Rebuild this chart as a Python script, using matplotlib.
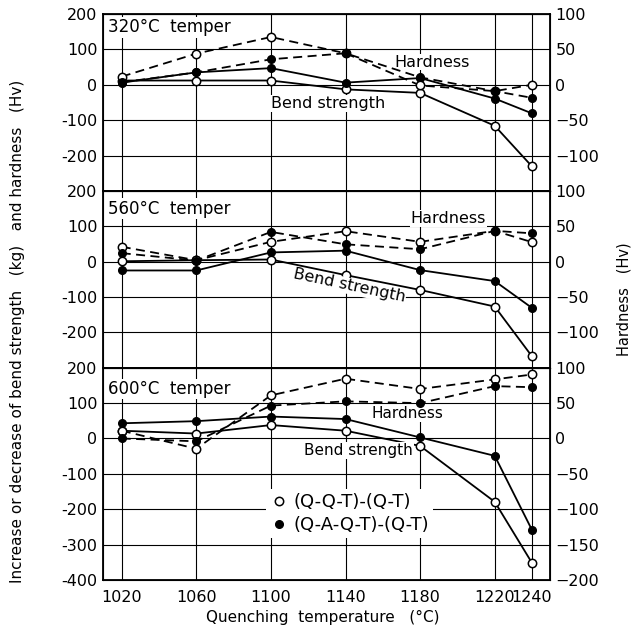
import matplotlib
matplotlib.use("Agg")
import matplotlib.pyplot as plt
from matplotlib.lines import Line2D

temps = [1020, 1060, 1100, 1140, 1180, 1220, 1240]

# bend strength change (kg), left axis
bend_qqt_320 = [12, 12, 12, -13, -23, -116, -231]
bend_qaqt_320 = [6, 35, 47, 6, 19, -39, -81]
bend_qqt_560 = [1, 4, 6, -38, -80, -127, -268]
bend_qaqt_560 = [-25, -25, 26, 31, -24, -55, -131]
bend_qqt_600 = [22, 14, 38, 22, -21, -179, -352]
bend_qaqt_600 = [43, 49, 62, 55, 3, -49, -259]

# hardness change (Hv), right axis
hard_qqt_320 = [11.5, 44, 67.5, 44.5, -1, -9, 0]
hard_qaqt_320 = [3.5, 17.5, 36, 44.5, 10.5, -9, -18.5]
hard_qqt_560 = [21, 2, 28, 43, 28, 43.5, 27.5]
hard_qaqt_560 = [12, 1.5, 42, 24.5, 17.5, 43.5, 40]
hard_qqt_600 = [11, -14.5, 61, 84.5, 70, 83.5, 90.5]
hard_qaqt_600 = [0, -4, 46.5, 52.5, 50, 74, 72.5]

panels = [
    ("320°C  temper", bend_qqt_320, bend_qaqt_320, hard_qqt_320, hard_qaqt_320,
     (-300, 200), (-150, 100), [200, 100, 0, -100, -200], [100, 50, 0, -50, -100]),
    ("560°C  temper", bend_qqt_560, bend_qaqt_560, hard_qqt_560, hard_qaqt_560,
     (-300, 200), (-150, 100), [200, 100, 0, -100, -200], [100, 50, 0, -50, -100]),
    ("600°C  temper", bend_qqt_600, bend_qaqt_600, hard_qqt_600, hard_qaqt_600,
     (-400, 200), (-200, 100), [200, 100, 0, -100, -200, -300, -400],
     [100, 50, 0, -50, -100, -150, -200]),
]

fig = plt.figure(figsize=(6.4, 6.37), dpi=100)
gs = fig.add_gridspec(3, 1, height_ratios=[5, 5, 6], hspace=0,
                      left=0.161, right=0.859, top=0.978, bottom=0.0895)

lw = 1.3
ms_open = 6
ms_fill = 5.5
axes = []
for i, (title, bq, ba, hq, ha, ylim, ylim2, yt, yt2) in enumerate(panels):
    ax = fig.add_subplot(gs[i])
    axes.append(ax)
    ax.set_xlim(1010, 1249.5)
    ax.set_ylim(*ylim)
    ax.set_xticks(temps)
    ax.set_yticks(range(ylim[0], ylim[1] + 1, 100))
    ax.set_yticklabels([str(v) if v in yt else "" for v in range(ylim[0], ylim[1] + 1, 100)])
    ax.grid(True, color="black", linewidth=0.8)
    ax.tick_params(length=0, labelsize=11.5, pad=4)
    ax.tick_params(axis="x", pad=7)
    for sp in ax.spines.values():
        sp.set_linewidth(1.3)
    if i < 2:
        ax.tick_params(labelbottom=False)

    ax.plot(temps, bq, "-", color="black", lw=lw, marker="o", ms=ms_open,
            mfc="white", mec="black", mew=1.1, zorder=3)
    ax.plot(temps, ba, "-", color="black", lw=lw, marker="o", ms=ms_fill,
            mfc="black", mec="black", zorder=3)

    ax2 = ax.twinx()
    ax2.set_ylim(*ylim2)
    ax2.set_yticks(yt2)
    ax2.tick_params(length=0, labelsize=11.5, pad=4)
    ax2.plot(temps, hq, "--", dashes=(5, 3), color="black", lw=lw, marker="o",
             ms=ms_open, mfc="white", mec="black", mew=1.1, zorder=3)
    ax2.plot(temps, ha, "--", dashes=(5, 3), color="black", lw=lw, marker="o",
             ms=ms_fill, mfc="black", mec="black", zorder=3)

    ax.text(0.012, 0.925 if i == 0 else 0.9, title, transform=ax.transAxes,
            fontsize=12, va="center", ha="left",
            bbox=dict(facecolor="white", edgecolor="none", pad=1))

ax1, ax_2, ax3 = axes
ax1.text(1166, 64, "Hardness", fontsize=11.5, va="center",
         bbox=dict(facecolor="white", edgecolor="none", pad=0.5))
ax1.text(1100, -53, "Bend strength", fontsize=11.5, va="center",
         bbox=dict(facecolor="white", edgecolor="none", pad=0.5))
ax_2.text(1175, 122, "Hardness", fontsize=11.5, va="center",
          bbox=dict(facecolor="white", edgecolor="none", pad=0.5))
ax_2.text(1142, -69, "Bend strength", fontsize=11.5, va="center", ha="center",
          rotation=-12, bbox=dict(facecolor="white", edgecolor="none", pad=0.5))
ax3.text(1154, 71, "Hardness", fontsize=11, va="center",
         bbox=dict(facecolor="white", edgecolor="none", pad=0.5))
ax3.text(1118, -34, "Bend strength", fontsize=11, va="center",
         bbox=dict(facecolor="white", edgecolor="none", pad=0.5))

handles = [
    Line2D([], [], ls="none", marker="o", ms=6, mfc="white", mec="black", mew=1.1,
           label="(Q-Q-T)-(Q-T)"),
    Line2D([], [], ls="none", marker="o", ms=5.5, mfc="black", mec="black",
           label="(Q-A-Q-T)-(Q-T)"),
]
leg = ax3.legend(handles=handles, loc="upper left", bbox_to_anchor=(0.345, 0.47),
                 frameon=True, fontsize=13, handletextpad=0.3, handlelength=1.0,
                 borderpad=0.2, labelspacing=0.3)
leg.get_frame().set_edgecolor("none")
leg.get_frame().set_facecolor("white")
leg.get_frame().set_alpha(1)

fig.text(0.028, 0.48, "Increase or decrease of bend strength   (kg)   and hardness   (Hv)",
         rotation=90, va="center", ha="center", fontsize=11)
fig.text(0.975, 0.53, "Hardness   (Hv)", rotation=90, va="center", ha="center",
         fontsize=10.5)
fig.text(0.505, 0.03, "Quenching  temperature   (°C)", ha="center", va="center",
         fontsize=11)

fig.savefig("out.png", dpi=100)
